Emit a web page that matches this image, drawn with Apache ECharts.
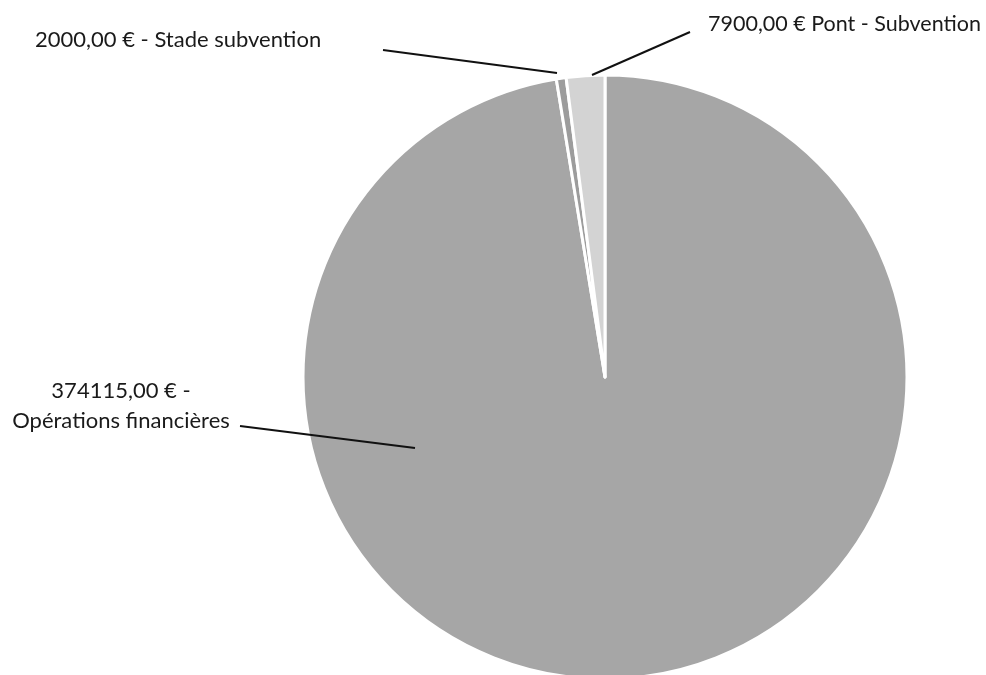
<!DOCTYPE html>
<html>
<head>
<meta charset="utf-8">
<script src="https://cdn.jsdelivr.net/npm/echarts@6/dist/echarts.min.js"></script>
<style>
html,body{margin:0;padding:0;background:#fff;}
#chart{width:986px;height:675px;}
</style>
</head>
<body>
<div id="chart"></div>
<script>
const categories = ['Opérations financières', 'Stade subvention', 'Pont - Subvention'];
const values = [374115, 2000, 7900];
const separators = [' -\n', ' - ', ' '];
const colors = ['#a6a6a6', '#9c9c9c', '#d3d3d3'];

function fmt(v) {
  return v.toFixed(2).replace('.', ',') + ' €';
}

const labelPos = [
  { x: 121, y: 406, align: 'center', size: 22 },
  { x: 35, y: 40, align: 'left', size: 22 },
  { x: 708, y: 24, align: 'left', size: 21.5 }
];
const leaderLines = [
  [[415, 448], [240, 426]],
  [[557, 73], [383, 50]],
  [[592, 75], [690, 32]]
];

const chart = echarts.init(document.getElementById('chart'));
chart.setOption({
  animation: false,
  graphic: leaderLines.map(pts => ({
    type: 'polyline',
    z: 100,
    shape: { points: pts },
    style: { stroke: '#111', lineWidth: 2, fill: null }
  })),
  series: [{
    type: 'pie',
    center: [605, 377],
    radius: 302,
    startAngle: 90,
    clockwise: true,
    data: categories.map((c, i) => ({
      name: c,
      value: values[i],
      itemStyle: { color: colors[i] },
      label: { fontSize: labelPos[i].size }
    })),
    itemStyle: { borderColor: '#ffffff', borderWidth: 3 },
    label: {
      show: true,
      position: 'outside',
      fontFamily: 'Lato',
      fontSize: 22,
      color: '#1a1a1a',
      lineHeight: 30,
      formatter: p => fmt(p.value) + separators[p.dataIndex] + p.name
    },
    labelLine: { show: false },
    labelLayout: function (params) {
      const lp = labelPos[params.dataIndex];
      return {
        x: lp.x,
        y: lp.y,
        align: lp.align,
        verticalAlign: 'middle'
      };
    },
    emphasis: { disabled: true }
  }]
});
</script>
</body>
</html>
